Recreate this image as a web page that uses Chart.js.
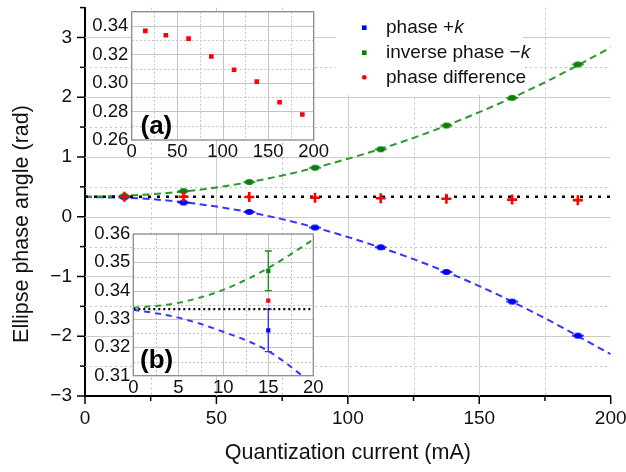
<!DOCTYPE html>
<html><head><meta charset="utf-8">
<script src="https://cdn.jsdelivr.net/npm/chart.js@4/dist/chart.umd.min.js"></script>
<style>
html,body{margin:0;padding:0;background:#fff;}
#wrap{position:relative;width:626px;height:472px;overflow:hidden;}
#wrap canvas{position:absolute;left:0;top:0;}
</style></head><body>
<div id="wrap">
<canvas id="main" width="626" height="472"></canvas>
<canvas id="insetA" width="626" height="472"></canvas>
<canvas id="insetB" width="626" height="472"></canvas>
</div>
<script>
// ---------------- data ----------------
const currents   = [15, 37.5, 62.5, 87.5, 112.5, 137.5, 162.5, 187.5];
const phasePlus  = [0.326, 0.238, 0.081, -0.181, -0.511, -0.924, -1.42, -1.99];
const phaseMinus = [0.347, 0.429, 0.581, 0.819, 1.129, 1.526, 1.99, 2.548];
const phaseDiff  = [0.3365, 0.3335, 0.3311, 0.3186, 0.3093, 0.3009, 0.2865, 0.2779];
const plusErr    = [0.0075];
const minusErr   = [0.007];

const fitX       = [0, 25, 50, 75, 100, 125, 150, 175, 200];
const fitPlus    = [0.333, 0.295, 0.17, -0.04, -0.34, -0.71, -1.16, -1.70, -2.30];
const fitMinus   = [0.333, 0.375, 0.49, 0.69, 0.97, 1.32, 1.75, 2.25, 2.83];

const zoomFitX     = [0, 5, 10, 15, 20];
const zoomFitPlus  = [0.3333, 0.3305, 0.3255, 0.3187, 0.307];
const zoomFitMinus = [0.3339, 0.3357, 0.3403, 0.348, 0.358];

const refX      = [0, 200];
const refZoomX  = [0, 20];
const refLevel  = [0.3335, 0.3335];

const mainXTicks   = [0, 25, 50, 75, 100, 125, 150, 175, 200];
const mainYTicks   = [-3, -2.5, -2, -1.5, -1, -0.5, 0, 0.5, 1, 1.5, 2, 2.5, 3, 3.5];
const insetAXTicks = [0, 25, 50, 75, 100, 125, 150, 175, 200];
const insetAYTicks = [0.26, 0.27, 0.28, 0.29, 0.30, 0.31, 0.32, 0.33, 0.34, 0.35];
const insetBXTicks = [0, 2.5, 5, 7.5, 10, 12.5, 15, 17.5, 20];
const insetBYTicks = [0.31, 0.315, 0.32, 0.325, 0.33, 0.335, 0.34, 0.345, 0.35, 0.355, 0.36];

const legendText   = ['phase +', 'inverse phase \u2212', 'phase difference'];
const legendItalic = ['k', 'k', ''];
const xTitle = 'Quantization current (mA)';
const yTitle = 'Ellipse phase angle (rad)';

// ---------------- helpers ----------------
const FONT = "'Liberation Sans', Arial, Helvetica, sans-serif";
Chart.defaults.font.family = FONT;
const BLUE = '#0000ff', GREEN = '#0a850a', RED = '#ff0000';
const pts = (xs, ys) => xs.map((x, i) => ({x: x, y: ys[i]}));
const minus = s => String(s).replace('-', '\u2212');

function makeMarker(color) {
  const c = document.createElement('canvas');
  c.width = 14; c.height = 8;
  const g = c.getContext('2d');
  g.strokeStyle = color; g.fillStyle = color; g.lineWidth = 1.5;
  g.beginPath(); g.moveTo(1, 4); g.lineTo(13, 4); g.stroke();
  g.beginPath(); g.ellipse(7, 4, 4.2, 3, 0, 0, Math.PI * 2); g.fill();
  return c;
}

function setTicks(arr) { return s => { s.ticks = arr.map(v => ({value: v})); }; }

function drawGrid(ctx, a, xs, ys, xt, yt, xMajor, yMajor, solid, dotted, dash) {
  ctx.lineWidth = 1;
  xt.forEach(v => {
    if (v === xs.min || v === xs.max) return;
    const px = Math.round(xs.getPixelForValue(v)) + 0.5;
    const maj = xMajor(v);
    ctx.strokeStyle = maj ? solid : dotted;
    ctx.setLineDash(maj ? [] : dash);
    ctx.beginPath(); ctx.moveTo(px, a.top); ctx.lineTo(px, a.bottom); ctx.stroke();
  });
  yt.forEach(v => {
    if (v === ys.min || v === ys.max) return;
    const py = Math.round(ys.getPixelForValue(v)) + 0.5;
    const maj = yMajor(v);
    ctx.strokeStyle = maj ? solid : dotted;
    ctx.setLineDash(maj ? [] : dash);
    ctx.beginPath(); ctx.moveTo(a.left, py); ctx.lineTo(a.right, py); ctx.stroke();
  });
  ctx.setLineDash([]);
}

const isMainXMajor = v => v % 50 === 0;
const isMainYMajor = v => Number.isInteger(v);

// ---------------- main chart ----------------
const mainDeco = {
  id: 'mainDeco',
  beforeDatasetsDraw(chart) {
    const {ctx, chartArea: a, scales: {x, y}} = chart;
    ctx.save();
    ctx.beginPath(); ctx.rect(a.left, a.top, a.width, a.height); ctx.clip();
    drawGrid(ctx, a, x, y, mainXTicks, mainYTicks, isMainXMajor, isMainYMajor, '#cccccc', '#c2c2c2', [2, 3]);
    // legend background
    ctx.fillStyle = '#ffffff';
    ctx.fillRect(336, a.top, 187, 95 - a.top);
    ctx.restore();
  },
  afterDraw(chart) {
    const {ctx, chartArea: a, scales: {x, y}} = chart;
    ctx.save();
    // tick marks
    ctx.strokeStyle = '#000'; ctx.lineWidth = 1.5;
    mainXTicks.forEach(v => {
      const px = x.getPixelForValue(v), len = isMainXMajor(v) ? 8 : 5;
      ctx.beginPath(); ctx.moveTo(px, a.bottom); ctx.lineTo(px, a.bottom + len); ctx.stroke();
    });
    mainYTicks.forEach(v => {
      const py = y.getPixelForValue(v), len = isMainYMajor(v) ? 8 : 5;
      ctx.beginPath(); ctx.moveTo(a.left - len, py); ctx.lineTo(a.left, py); ctx.stroke();
    });
    // legend
    const colors = [BLUE, '#008000', RED];
    const rows = [27.7, 52.7, 77.3];
    ctx.textBaseline = 'middle'; ctx.textAlign = 'left';
    legendText.forEach((t, i) => {
      ctx.fillStyle = colors[i];
      if (i < 2) { ctx.fillRect(364.3 - 2.3, rows[i] - 2.3, 4.6, 4.6); }
      else { ctx.beginPath(); ctx.arc(364.3, rows[i], 2.4, 0, Math.PI * 2); ctx.fill(); }
      ctx.fillStyle = '#111';
      ctx.font = '19px ' + FONT;
      ctx.fillText(t, 386, rows[i]);
      if (legendItalic[i]) {
        const w = ctx.measureText(t).width;
        ctx.font = 'italic 19px ' + FONT;
        ctx.fillText(legendItalic[i], 386 + w, rows[i]);
      }
    });
    // axis titles
    ctx.fillStyle = '#111';
    ctx.font = '21.5px ' + FONT;
    ctx.textAlign = 'center';
    ctx.fillText(xTitle, (a.left + a.right) / 2, 453);
    ctx.translate(22, 224); ctx.rotate(-Math.PI / 2);
    ctx.fillText(yTitle, 0, 0);
    ctx.restore();
  }
};

new Chart(document.getElementById('main'), {
  type: 'scatter',
  data: { datasets: [
    { label: 'phase difference', data: pts(currents, phaseDiff), pointStyle: 'cross', pointRadius: 5,
      borderColor: RED, backgroundColor: RED, pointBorderWidth: 2.6 },
    { label: 'inverse phase -k', data: pts(currents, phaseMinus), pointStyle: makeMarker('#0b7f0b'), pointRadius: 4,
      borderColor: GREEN, backgroundColor: GREEN },
    { label: 'phase +k', data: pts(currents, phasePlus), pointStyle: makeMarker(BLUE), pointRadius: 4,
      borderColor: BLUE, backgroundColor: BLUE },
    { label: 'reference', data: pts(refX, refLevel), showLine: true, borderColor: '#000', borderWidth: 2.5,
      borderDash: [3, 6], pointRadius: 0 },
    { label: 'fit -k', data: pts(fitX, fitMinus), showLine: true, borderColor: '#2a9a2a', borderWidth: 2,
      borderDash: [7, 4.5], pointRadius: 0, cubicInterpolationMode: 'monotone' },
    { label: 'fit +k', data: pts(fitX, fitPlus), showLine: true, borderColor: '#3535ff', borderWidth: 2,
      borderDash: [7, 4.5], pointRadius: 0, cubicInterpolationMode: 'monotone' }
  ]},
  options: {
    responsive: false, animation: false, events: [],
    layout: { padding: { left: 0, top: 7, right: 15.3, bottom: 0 } },
    plugins: { legend: { display: false }, tooltip: { enabled: false } },
    scales: {
      x: { type: 'linear', min: 0, max: 200, afterBuildTicks: setTicks(mainXTicks),
        ticks: { callback: v => isMainXMajor(v) ? String(v) : '', font: { size: 19 }, color: '#111', padding: 3,
          maxRotation: 0, autoSkip: false },
        grid: { display: true, drawOnChartArea: false, drawTicks: true, tickLength: 8, color: 'rgba(0,0,0,0)', lineWidth: 0 },
        border: { display: true, color: '#000', width: 2 },
        afterFit: s => { s.height = 76; s.paddingLeft = 0; s.paddingRight = 0; } },
      y: { type: 'linear', min: -3, max: 3.5, afterBuildTicks: setTicks(mainYTicks),
        ticks: { callback: v => isMainYMajor(v) ? minus(v) : '', font: { size: 19 }, color: '#111', padding: 5,
          autoSkip: false },
        grid: { display: true, drawOnChartArea: false, drawTicks: true, tickLength: 8, color: 'rgba(0,0,0,0)', lineWidth: 0 },
        border: { display: true, color: '#000', width: 2 },
        afterFit: s => { s.width = 85; s.paddingTop = 0; s.paddingBottom = 0; } }
    }
  },
  plugins: [mainDeco]
});

// ---------------- insets ----------------
function insetDeco(id, tag, tagX, tagY, xt, yt, xMajor, yMajor, errInfo) {
  return {
    id: id,
    beforeDraw(chart) {
      const {ctx, chartArea: a} = chart;
      ctx.save(); ctx.fillStyle = '#fff'; ctx.fillRect(a.left, a.top, a.width, a.height); ctx.restore();
    },
    beforeDatasetsDraw(chart) {
      const {ctx, chartArea: a, scales: {x, y}} = chart;
      ctx.save();
      drawGrid(ctx, a, x, y, xt, yt, xMajor, yMajor, '#c4c4c4', '#c4c4c4', [2, 2]);
      if (errInfo) {
        errInfo.forEach(e => {
          const meta = chart.getDatasetMeta(e.ds);
          meta.data.forEach((pt, i) => {
            const d = chart.data.datasets[e.ds].data[i];
            const err = e.err[i];
            if (err === undefined) return;
            const y1 = y.getPixelForValue(d.y - err), y2 = y.getPixelForValue(d.y + err);
            ctx.strokeStyle = e.color; ctx.lineWidth = 1.3;
            ctx.beginPath();
            ctx.moveTo(pt.x, y1); ctx.lineTo(pt.x, y2);
            ctx.moveTo(pt.x - 3.5, y1); ctx.lineTo(pt.x + 3.5, y1);
            ctx.moveTo(pt.x - 3.5, y2); ctx.lineTo(pt.x + 3.5, y2);
            ctx.stroke();
          });
        });
      }
      ctx.restore();
    },
    afterDraw(chart) {
      const {ctx, chartArea: a} = chart;
      ctx.save();
      ctx.strokeStyle = '#8a8a8a'; ctx.lineWidth = 1.3;
      ctx.strokeRect(a.left, a.top, a.width, a.height);
      ctx.fillStyle = '#000';
      ctx.font = 'bold 26px ' + FONT;
      ctx.textBaseline = 'middle'; ctx.textAlign = 'left';
      ctx.fillText(tag, tagX, tagY);
      ctx.restore();
    }
  };
}

function insetScales(xMin, xMax, xt, xLab, yMin, yMax, yt, yLab, left, bottom, ypad) {
  const tickFont = { size: 18.5 };
  return {
    x: { type: 'linear', min: xMin, max: xMax, afterBuildTicks: setTicks(xt),
      ticks: { callback: xLab, font: tickFont, color: '#111', padding: 1, maxRotation: 0, autoSkip: false },
      grid: { display: false, drawTicks: false, tickLength: 0 },
      border: { display: false },
      afterFit: s => { s.height = 472 - bottom; s.paddingLeft = 0; s.paddingRight = 0; } },
    y: { type: 'linear', min: yMin, max: yMax, afterBuildTicks: setTicks(yt),
      ticks: { callback: yLab, font: tickFont, color: '#111', padding: ypad, autoSkip: false },
      grid: { display: false, drawTicks: false, tickLength: 0 },
      border: { display: false },
      afterFit: s => { s.width = left; s.paddingTop = 0; s.paddingBottom = 0; } }
  };
}

// inset (a)
const aXMajor = v => v % 50 === 0;
const aYMajor = v => Math.round(v * 100) % 2 === 0;
new Chart(document.getElementById('insetA'), {
  type: 'scatter',
  data: { datasets: [
    { label: 'phase difference', data: pts(currents, phaseDiff), pointStyle: 'rect', pointRadius: 3.3,
      backgroundColor: RED, borderColor: RED, borderWidth: 0 }
  ]},
  options: {
    responsive: false, animation: false, events: [],
    layout: { padding: { left: 0, top: 11.7, right: 626 - 313.7, bottom: 0 } },
    plugins: { legend: { display: false }, tooltip: { enabled: false } },
    scales: insetScales(0, 200, insetAXTicks, v => aXMajor(v) ? String(v) : '',
      0.26, 0.35, insetAYTicks, v => aYMajor(v) ? v.toFixed(2) : '', 131.7, 140, 3.4)
  },
  plugins: [insetDeco('decoA', '(a)', 140.5, 127, insetAXTicks, insetAYTicks, aXMajor, aYMajor, null)]
});

// inset (b)
const bXMajor = v => v % 5 === 0;
const bYMajor = v => Math.round(v * 1000) % 10 === 0;
const inZoom = p => p.x <= 20;
new Chart(document.getElementById('insetB'), {
  type: 'scatter',
  data: { datasets: [
    { label: 'phase difference', data: pts(currents, phaseDiff).filter(inZoom), pointStyle: 'rect', pointRadius: 3,
      backgroundColor: RED, borderColor: RED, borderWidth: 0 },
    { label: 'inverse phase -k', data: pts(currents, phaseMinus).filter(inZoom), pointStyle: 'rect', pointRadius: 3,
      backgroundColor: '#0b7f0b', borderColor: '#0b7f0b', borderWidth: 0 },
    { label: 'phase +k', data: pts(currents, phasePlus).filter(inZoom), pointStyle: 'rect', pointRadius: 3,
      backgroundColor: BLUE, borderColor: BLUE, borderWidth: 0 },
    { label: 'reference', data: pts(refZoomX, refLevel), showLine: true, borderColor: '#000', borderWidth: 2.2,
      borderDash: [2, 3], pointRadius: 0 },
    { label: 'fit -k', data: pts(zoomFitX, zoomFitMinus), showLine: true, borderColor: '#2a9a2a', borderWidth: 2,
      borderDash: [6, 5], pointRadius: 0, cubicInterpolationMode: 'monotone' },
    { label: 'fit +k', data: pts(zoomFitX, zoomFitPlus), showLine: true, borderColor: '#3535ff', borderWidth: 2,
      borderDash: [6, 5], pointRadius: 0, cubicInterpolationMode: 'monotone' }
  ]},
  options: {
    responsive: false, animation: false, events: [],
    layout: { padding: { left: 0, top: 234, right: 626 - 313.3, bottom: 0 } },
    plugins: { legend: { display: false }, tooltip: { enabled: false } },
    scales: insetScales(0, 20, insetBXTicks, v => bXMajor(v) ? String(v) : '',
      0.31, 0.36, insetBYTicks, v => bYMajor(v) ? v.toFixed(2) : '', 133.3, 375.7, 3)
  },
  plugins: [insetDeco('decoB', '(b)', 140, 360.5, insetBXTicks, insetBYTicks, bXMajor, bYMajor,
    [{ ds: 1, err: minusErr, color: '#1a8a1a' }, { ds: 2, err: plusErr, color: '#2a2aff' }])]
});
</script>
</body></html>
